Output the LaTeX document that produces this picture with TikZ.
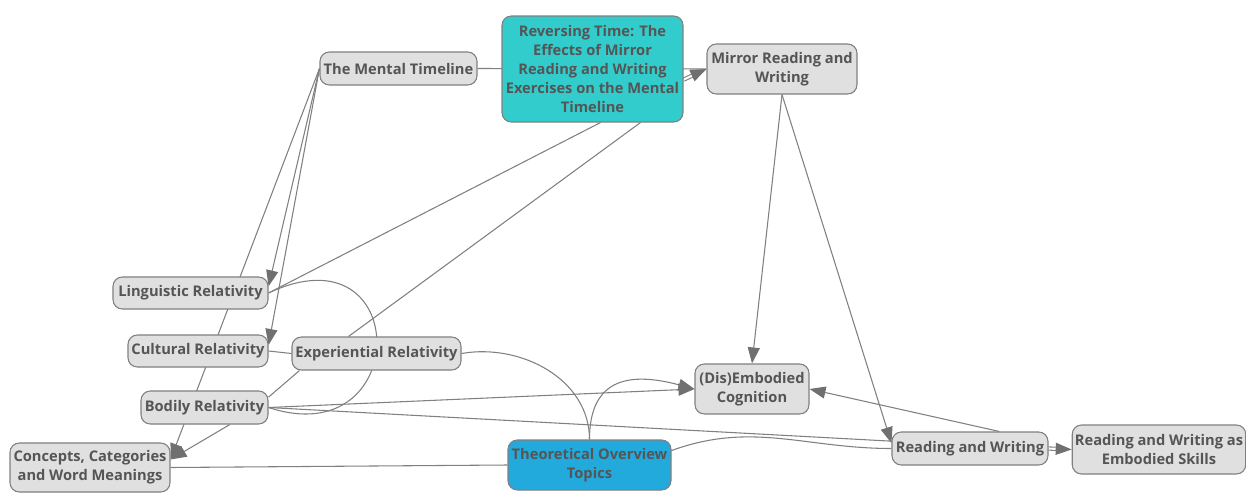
\documentclass[tikz,border=0pt]{standalone}
\usepackage{fontspec}
\setmainfont{Open Sans}
\usetikzlibrary{arrows.meta, positioning, backgrounds}
\definecolor{boxgray}{HTML}{E0E0E0}
\definecolor{edgegray}{HTML}{808080}
\definecolor{tipgray}{HTML}{707070}
\definecolor{txtgray}{HTML}{555555}
\definecolor{revteal}{HTML}{33CCCC}
\definecolor{topicblue}{HTML}{22AADD}
\tikzset{
  box/.style={rectangle,draw=edgegray,line width=0.8pt,fill=boxgray,rounded corners=7pt,align=center,inner sep=2pt,text=txtgray,font=\bfseries\fontsize{11}{14.25}\selectfont},
  boxsize/.style 2 args={minimum width=#1,minimum height=#2},
  link/.style={draw=edgegray,line width=0.8pt},
  line/.style={link,-{Triangle[length=12pt,width=9pt,color=tipgray]}},
  dline/.style={line,double=white,double distance=1.6pt}
}

\begin{document}
\begin{tikzpicture}[x=0.75pt,y=-0.75pt]
\useasboundingbox (0,0) rectangle (1246,493);
\node[box, fill=revteal, boxsize={135.75pt}{79.5pt}] (rev) at (592.5,69) {Reversing Time: The\\Effects of Mirror\\Reading and Writing\\Exercises on the Mental\\Timeline};
\node[box, boxsize={117.75pt}{24.75pt}] (tml) at (398.5,68.5) {The Mental Timeline};
\node[box, boxsize={112.5pt}{37.5pt}] (mrw) at (782,69) {Mirror Reading and\\Writing};
\node[box, boxsize={116.25pt}{24pt}] (lr) at (190.5,293) {Linguistic Relativity};
\node[box, boxsize={105pt}{24pt}] (cr) at (198,351) {Cultural Relativity};
\node[box, boxsize={126.75pt}{24.75pt}] (er) at (376.5,353.5) {Experiential Relativity};
\node[box, boxsize={95.25pt}{24.75pt}] (br) at (204.5,407.5) {Bodily Relativity};
\node[box, boxsize={120pt}{36.75pt}] (ccw) at (90,467.5) {Concepts, Categories\\and Word Meanings};
\node[box, fill=topicblue, boxsize={122.25pt}{37.5pt}] (tot) at (589.5,465) {Theoretical Overview\\Topics};
\node[box, boxsize={85.5pt}{37.5pt}] (dec) at (752,389) {(Dis)Embodied\\Cognition};
\node[box, boxsize={117pt}{24.75pt}] (rw) at (970,448.5) {Reading and Writing};
\node[box, boxsize={129.75pt}{36.75pt}] (rwe) at (1159,449.5) {Reading and Writing as\\Embodied Skills};

% connectors behind the boxes
\begin{scope}[on background layer]
\coordinate (ccwtip) at ([yshift=6pt]ccw.east);
\draw[line] (tml.west) -- ([yshift=5pt]lr.east);
\draw[line] (tml.west) -- ([yshift=4.5pt]cr.east);
\draw[line] (tml.west) -- (ccwtip);
\draw[link] (tml.east) -- (mrw.west);
\draw[dline] ([yshift=-8pt]rev.east) -- (mrw.west);
\draw[link] ([xshift=6pt]rev.south) -- (lr.east);
\draw[link] ([xshift=36pt]rev.south) -- ([xshift=-21pt]er.north);
\draw[line] (mrw.south) -- (dec.north);
\draw[line] (mrw.south) -- ([yshift=4pt]rw.west);
\draw[link] (cr.east) -- (er.west);
\draw[link] (lr.east) .. controls (413,225) and (413,455) .. (br.east);
\draw[link] ([xshift=6pt]er.south west) -- ([yshift=-5pt]br.north east);
\draw[link] (er.east) to[out=10,in=90] (tot.north);
\draw[line] (tot.north) to[out=90,in=165,looseness=1.4] (dec.west);
\draw[line] (br.east) -- (dec.west);
\draw[link] (br.east) -- ([yshift=5.5pt]rw.west);
\draw[line] ([xshift=19pt]br.south) -- (ccwtip);
\draw[link] (tot.west) -- (ccw.east);
\draw[link] (tot.10) to[out=20,in=180] (rw.west);
\draw[line] ([xshift=22pt]rw.north) -- (dec.east);
\draw[dline] (rw.east) -- (rwe.west);
\end{scope}
\end{tikzpicture}
\end{document}
